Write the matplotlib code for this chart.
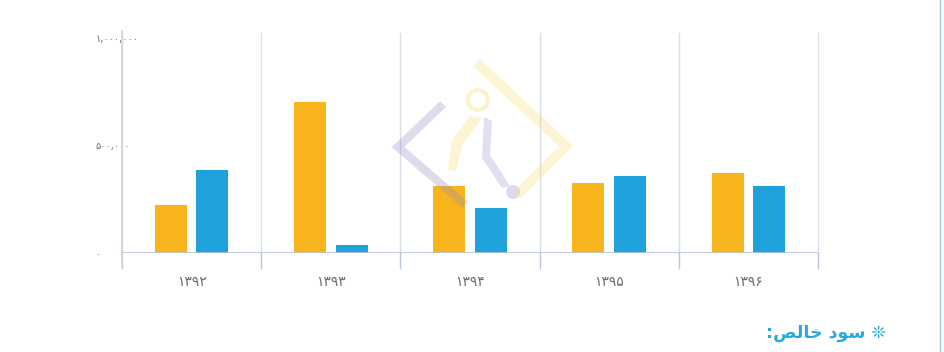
import matplotlib
matplotlib.use("Agg")
import matplotlib.pyplot as plt
from matplotlib.patches import Polygon, Circle
import numpy as np

# data
years = ["۱۳۹۲", "۱۳۹۳", "۱۳۹۴", "۱۳۹۵", "۱۳۹۶"]
orange_vals = [223000, 702000, 312000, 326000, 372000]
blue_vals = [386000, 37000, 209000, 358000, 312000]
ytick_vals = [0, 500000, 1000000]
ytick_labels = ["۰", "۵۰۰,۰۰۰", "۱,۰۰۰,۰۰۰"]
# title "❊ سود خالص:" written in visual order (presentation forms, laid out right-to-left by hand)
title = ":" + "\uFEBA\uFEDF\uFE8E\uFEA7" + " " + "\uFEA9\uFEEE\uFEB3" + " \u274A"

plt.rcParams['font.family'] = ['DejaVu Sans']

fig = plt.figure(figsize=(9.45, 3.52), dpi=100)
ax = fig.add_axes([122/945, 99/352, 696/945, 220/352])

x = np.arange(len(years))
ax.bar(x - 0.15, orange_vals, width=0.23, color="#F8B41B", zorder=3)
ax.bar(x + 0.15, blue_vals, width=0.23, color="#1FA1DC", zorder=3)

ax.set_xlim(-0.5, len(years) - 0.5)
ax.set_ylim(0, 1023000)
for s in ax.spines.values():
    s.set_visible(False)

# vertical grid at category borders + tick marks below
grid_c = "#d9dee7"
axis_c = "#b9c6d9"
for b in np.arange(-0.5, len(years), 1.0):
    ax.axvline(b, color=grid_c, lw=1, zorder=1, clip_on=False)
    ax.plot([b, b], [0, -15/220], transform=ax.get_xaxis_transform(),
            color=axis_c, lw=1, clip_on=False)
# x axis line
ax.axhline(0, color=axis_c, lw=1.2, zorder=4)
# y axis line, a bit longer than the plot
ax.plot([0, 0], [-12/220, 1.01], transform=ax.transAxes, color="#cfd5df",
        lw=1.2, clip_on=False, zorder=4)

ax.set_xticks(x)
ax.set_xticklabels(years, fontsize=10, color="#6d6d6d")
ax.tick_params(axis='x', length=0, pad=16)
# y labels are left aligned and run over the axis line (as in the source)
ax.set_yticks(ytick_vals)
ax.set_yticklabels(ytick_labels, fontsize=7, color="#6d6d6d", ha='left')
ax.tick_params(axis='y', length=0, pad=26 * 0.72)
ax.get_yticklabels()[0].set_y(-20000)

# faint watermark logo
wm = fig.add_axes([0, 0, 1, 1], zorder=5)
wm.set_xlim(0, 945)
wm.set_ylim(352, 0)
wm.axis('off')
wm.plot([480, 566, 520], [66, 146, 192], color="#f7dc6e", lw=7, alpha=0.3,
        solid_joinstyle='miter')
wm.plot([440, 398, 462], [107, 147, 202], color="#8c8cc6", lw=6, alpha=0.3,
        solid_joinstyle='miter')
wm.add_patch(Circle((478, 100), 10, fill=False, ec="#f7dc6e", lw=3, alpha=0.35))
wm.add_patch(Polygon([[470, 116], [482, 118], [462, 145], [456, 172], [448, 170], [452, 140]],
                     closed=True, fc="#f7dc6e", ec="none", alpha=0.3))
wm.add_patch(Polygon([[484, 117], [492, 121], [490, 155], [510, 186], [502, 188], [482, 158]],
                     closed=True, fc="#9a9ad0", ec="none", alpha=0.3))
wm.add_patch(Circle((513, 192), 7, fc="#9a9ad0", ec="none", alpha=0.35))
# page border on the right
wm.plot([940, 940], [0, 352], color="#9ecbe8", lw=1)

fig.text(886/945, 1 - 333/352, title, fontsize=12.5, color="#29A8E0",
         fontweight='bold', ha='right', va='center')

fig.savefig("out.png", dpi=100)
